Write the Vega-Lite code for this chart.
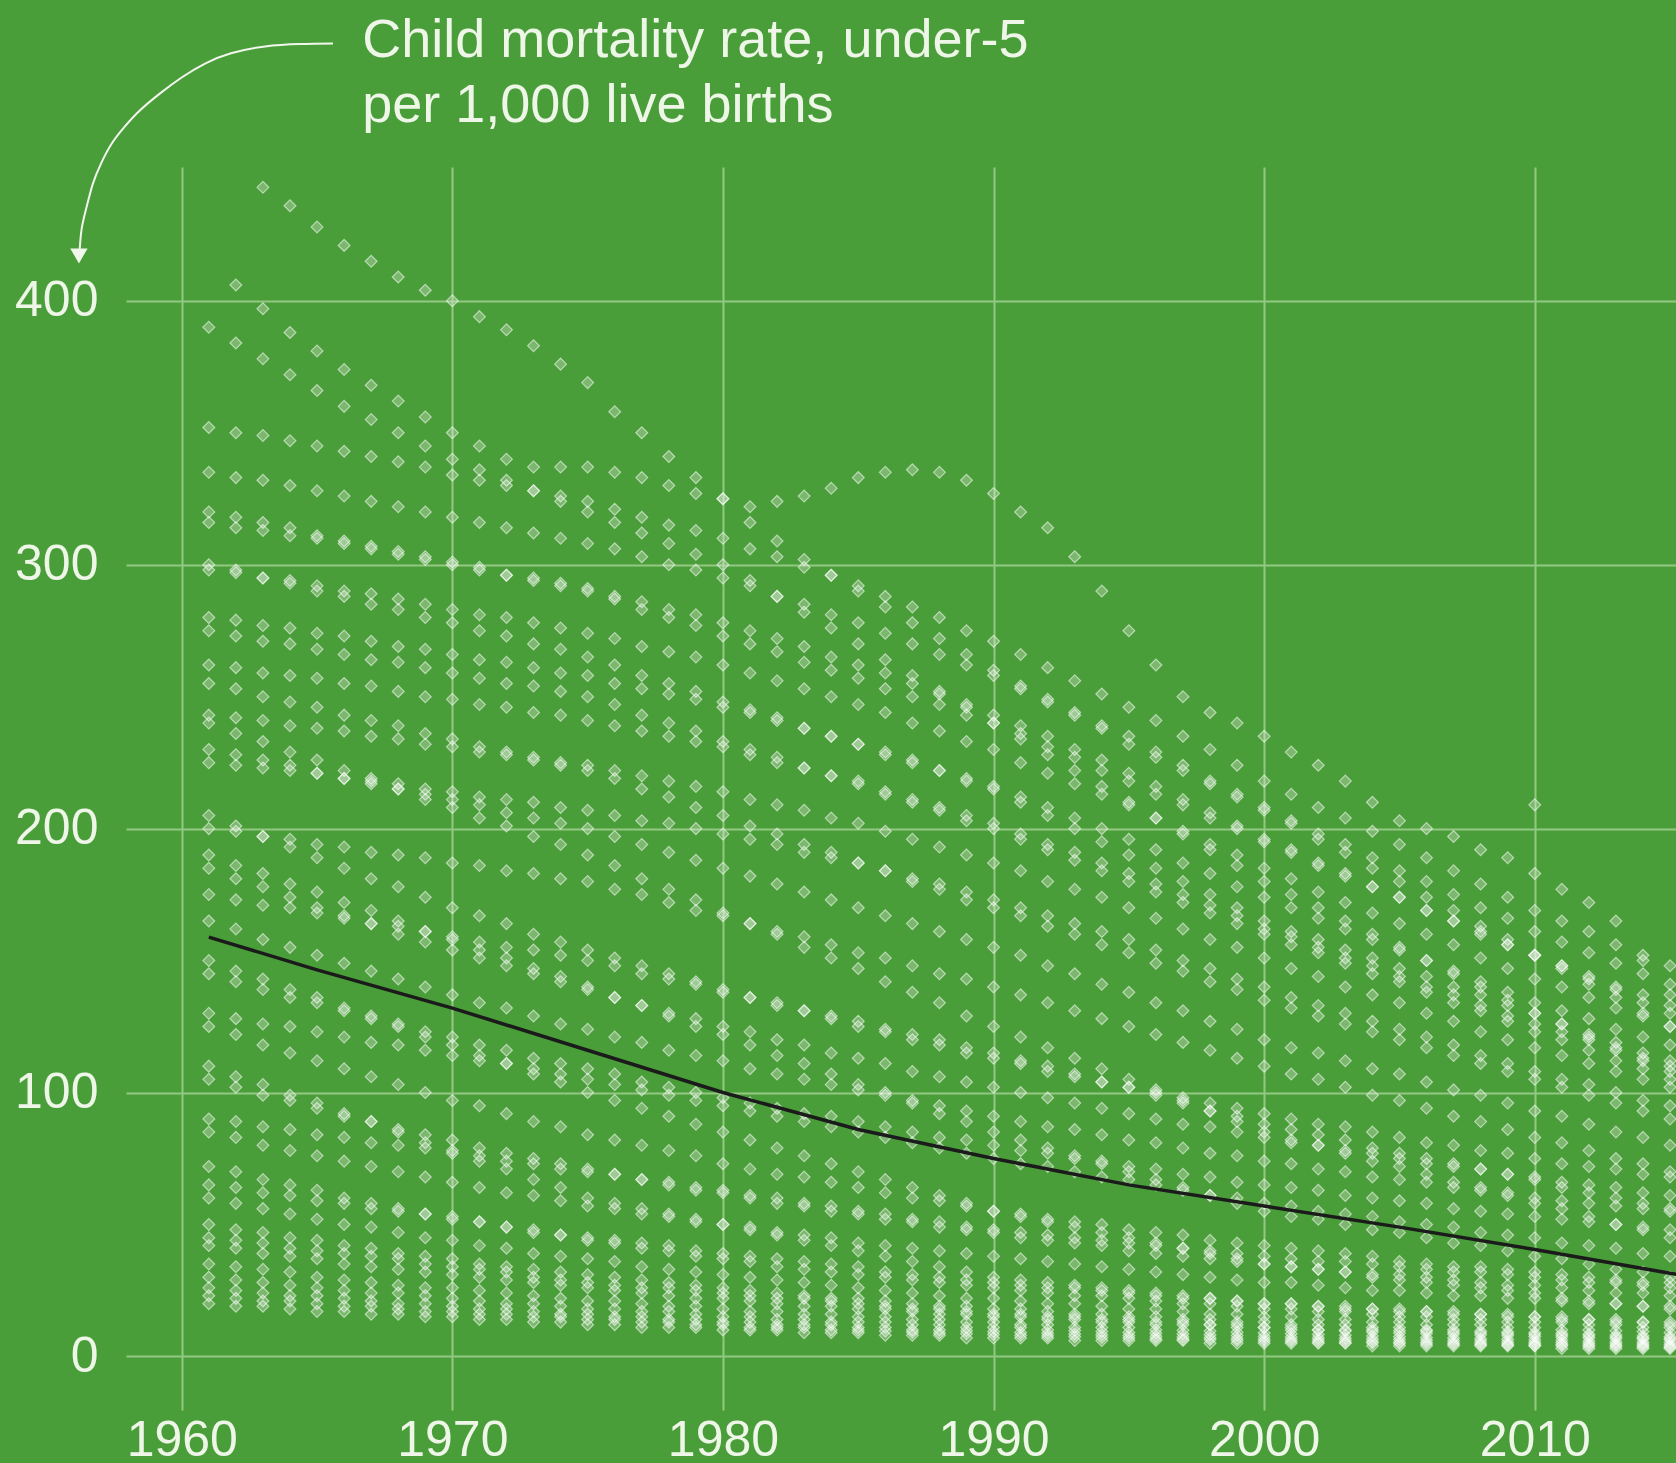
{
"$schema": "https://vega.github.io/schema/vega-lite/v6.json",
"autosize": "none",
"width": 1550,
"height": 1243,
"padding": {"left": 126, "top": 167, "right": 0, "bottom": 53},
"background": "#4a9e39",
"config": {"view": {"stroke": null}},
"datasets": {
"avg": [{"t":1961,"v":158.9},{"t":1965,"v":146.5},{"t":1970,"v":132},{"t":1975,"v":116},{"t":1980,"v":100},{"t":1985,"v":86},{"t":1990,"v":75},{"t":1995,"v":65},{"t":2000,"v":57},{"t":2005,"v":49},{"t":2010,"v":40.5},{"t":2015,"v":31.5},{"t":2016,"v":30}],
"arrow": [{"i":0,"t":1965.59,"v":497.5},{"i":1,"t":1964.37,"v":497.3},{"i":2,"t":1963.08,"v":496.4},{"i":3,"t":1961.82,"v":493.8},{"i":4,"t":1960.86,"v":489.9},{"i":5,"t":1960.01,"v":484.7},{"i":6,"t":1959.2,"v":478.6},{"i":7,"t":1958.46,"v":472.2},{"i":8,"t":1957.9,"v":466.1},{"i":9,"t":1957.42,"v":459.7},{"i":10,"t":1957.02,"v":452.1},{"i":11,"t":1956.72,"v":444.5},{"i":12,"t":1956.5,"v":436.2},{"i":13,"t":1956.31,"v":427.8},{"i":14,"t":1956.24,"v":421},{"i":15,"t":1956.2,"v":417}],
"head": [{"t":1956.2,"v":417}],
"txt": [{"t":1966.67,"v":492.2,"label":"Child mortality rate, under-5"},{"t":1966.67,"v":467.6,"label":"per 1,000 live births"}],
"pts": [
{"t":1961,"v":20},{"t":1962,"v":19},{"t":1963,"v":19},{"t":1964,"v":18},{"t":1965,"v":17},{"t":1966,"v":17},{"t":1967,"v":16},{"t":1968,"v":16},{"t":1969,"v":15},{"t":1970,"v":15},{"t":1971,"v":14},{"t":1972,"v":14},{"t":1973,"v":13},{"t":1974,"v":13},{"t":1975,"v":12},{"t":1976,"v":12},{"t":1977,"v":11},{"t":1978,"v":11},{"t":1979,"v":11},{"t":1980,"v":10},{"t":1981,"v":10},{"t":1982,"v":10},{"t":1983,"v":9},{"t":1984,"v":9},{"t":1985,"v":9},{"t":1986,"v":8},{"t":1987,"v":8},{"t":1988,"v":8},{"t":1989,"v":7},{"t":1990,"v":7},{"t":1991,"v":7},{"t":1992,"v":7},{"t":1993,"v":6},{"t":1994,"v":6},{"t":1995,"v":6},{"t":1996,"v":6},{"t":1997,"v":6},{"t":1998,"v":5},{"t":1999,"v":5},{"t":2000,"v":5},{"t":2001,"v":5},{"t":2002,"v":5},{"t":2003,"v":5},{"t":2004,"v":4},{"t":2005,"v":4},{"t":2006,"v":4},{"t":2007,"v":4},{"t":2008,"v":4},{"t":2009,"v":4},{"t":2010,"v":4},{"t":2011,"v":3},{"t":2012,"v":3},{"t":2013,"v":3},{"t":2014,"v":3},{"t":2015,"v":3},
{"t":1961,"v":23},{"t":1962,"v":22},{"t":1963,"v":21},{"t":1964,"v":21},{"t":1965,"v":20},{"t":1966,"v":19},{"t":1967,"v":19},{"t":1968,"v":18},{"t":1969,"v":17},{"t":1970,"v":17},{"t":1971,"v":16},{"t":1972,"v":16},{"t":1973,"v":15},{"t":1974,"v":15},{"t":1975,"v":14},{"t":1976,"v":14},{"t":1977,"v":13},{"t":1978,"v":13},{"t":1979,"v":12},{"t":1980,"v":12},{"t":1981,"v":11},{"t":1982,"v":11},{"t":1983,"v":11},{"t":1984,"v":10},{"t":1985,"v":9.9},{"t":1986,"v":9.6},{"t":1987,"v":9.2},{"t":1988,"v":8.9},{"t":1989,"v":8.6},{"t":1990,"v":8.3},{"t":1991,"v":8.0},{"t":1992,"v":7.8},{"t":1993,"v":7.5},{"t":1994,"v":7.2},{"t":1995,"v":7.0},{"t":1996,"v":6.7},{"t":1997,"v":6.5},{"t":1998,"v":6.3},{"t":1999,"v":6.0},{"t":2000,"v":5.8},{"t":2001,"v":5.7},{"t":2002,"v":5.5},{"t":2003,"v":5.3},{"t":2004,"v":5.1},{"t":2005,"v":4.9},{"t":2006,"v":4.7},{"t":2007,"v":4.6},{"t":2008,"v":4.4},{"t":2009,"v":4.3},{"t":2010,"v":4.1},{"t":2011,"v":4.0},{"t":2012,"v":3.8},{"t":2013,"v":3.7},{"t":2014,"v":3.6},{"t":2015,"v":3.5},
{"t":1961,"v":26},{"t":1962,"v":25},{"t":1963,"v":24},{"t":1964,"v":23},{"t":1965,"v":23},{"t":1966,"v":22},{"t":1967,"v":21},{"t":1968,"v":20},{"t":1969,"v":20},{"t":1970,"v":19},{"t":1971,"v":18},{"t":1972,"v":18},{"t":1973,"v":17},{"t":1974,"v":16},{"t":1975,"v":16},{"t":1976,"v":15},{"t":1977,"v":15},{"t":1978,"v":14},{"t":1979,"v":14},{"t":1980,"v":13},{"t":1981,"v":13},{"t":1982,"v":12},{"t":1983,"v":12},{"t":1984,"v":12},{"t":1985,"v":11},{"t":1986,"v":11},{"t":1987,"v":10},{"t":1988,"v":10},{"t":1989,"v":9.7},{"t":1990,"v":9.4},{"t":1991,"v":9.1},{"t":1992,"v":8.8},{"t":1993,"v":8.5},{"t":1994,"v":8.2},{"t":1995,"v":7.9},{"t":1996,"v":7.6},{"t":1997,"v":7.4},{"t":1998,"v":7.1},{"t":1999,"v":6.8},{"t":2000,"v":6.6},{"t":2001,"v":6.4},{"t":2002,"v":6.2},{"t":2003,"v":6.0},{"t":2004,"v":5.7},{"t":2005,"v":5.5},{"t":2006,"v":5.4},{"t":2007,"v":5.2},{"t":2008,"v":5.0},{"t":2009,"v":4.8},{"t":2010,"v":4.7},{"t":2011,"v":4.5},{"t":2012,"v":4.3},{"t":2013,"v":4.2},{"t":2014,"v":4.1},{"t":2015,"v":3.9},
{"t":1961,"v":30},{"t":1962,"v":29},{"t":1963,"v":28},{"t":1964,"v":27},{"t":1965,"v":26},{"t":1966,"v":25},{"t":1967,"v":24},{"t":1968,"v":24},{"t":1969,"v":23},{"t":1970,"v":22},{"t":1971,"v":21},{"t":1972,"v":20},{"t":1973,"v":20},{"t":1974,"v":19},{"t":1975,"v":18},{"t":1976,"v":18},{"t":1977,"v":17},{"t":1978,"v":17},{"t":1979,"v":16},{"t":1980,"v":15},{"t":1981,"v":15},{"t":1982,"v":14},{"t":1983,"v":14},{"t":1984,"v":13},{"t":1985,"v":13},{"t":1986,"v":13},{"t":1987,"v":12},{"t":1988,"v":12},{"t":1989,"v":11},{"t":1990,"v":11},{"t":1991,"v":11},{"t":1992,"v":10},{"t":1993,"v":9.8},{"t":1994,"v":9.4},{"t":1995,"v":9.1},{"t":1996,"v":8.8},{"t":1997,"v":8.5},{"t":1998,"v":8.2},{"t":1999,"v":7.9},{"t":2000,"v":7.6},{"t":2001,"v":7.4},{"t":2002,"v":7.1},{"t":2003,"v":6.9},{"t":2004,"v":6.6},{"t":2005,"v":6.4},{"t":2006,"v":6.2},{"t":2007,"v":6.0},{"t":2008,"v":5.8},{"t":2009,"v":5.6},{"t":2010,"v":5.4},{"t":2011,"v":5.2},{"t":2012,"v":5.0},{"t":2013,"v":4.8},{"t":2014,"v":4.7},{"t":2015,"v":4.5},
{"t":1961,"v":35},{"t":1962,"v":34},{"t":1963,"v":33},{"t":1964,"v":32},{"t":1965,"v":30},{"t":1966,"v":29},{"t":1967,"v":28},{"t":1968,"v":27},{"t":1969,"v":26},{"t":1970,"v":26},{"t":1971,"v":25},{"t":1972,"v":24},{"t":1973,"v":23},{"t":1974,"v":22},{"t":1975,"v":21},{"t":1976,"v":21},{"t":1977,"v":20},{"t":1978,"v":19},{"t":1979,"v":19},{"t":1980,"v":18},{"t":1981,"v":17},{"t":1982,"v":17},{"t":1983,"v":16},{"t":1984,"v":16},{"t":1985,"v":15},{"t":1986,"v":15},{"t":1987,"v":14},{"t":1988,"v":14},{"t":1989,"v":13},{"t":1990,"v":13},{"t":1991,"v":12},{"t":1992,"v":12},{"t":1993,"v":11},{"t":1994,"v":11},{"t":1995,"v":11},{"t":1996,"v":10},{"t":1997,"v":9.9},{"t":1998,"v":9.6},{"t":1999,"v":9.2},{"t":2000,"v":8.9},{"t":2001,"v":8.6},{"t":2002,"v":8.3},{"t":2003,"v":8.0},{"t":2004,"v":7.7},{"t":2005,"v":7.5},{"t":2006,"v":7.2},{"t":2007,"v":7.0},{"t":2008,"v":6.7},{"t":2009,"v":6.5},{"t":2010,"v":6.3},{"t":2011,"v":6.1},{"t":2012,"v":5.8},{"t":2013,"v":5.6},{"t":2014,"v":5.5},{"t":2015,"v":5.3},
{"t":1961,"v":42},{"t":1962,"v":41},{"t":1963,"v":39},{"t":1964,"v":38},{"t":1965,"v":37},{"t":1966,"v":35},{"t":1967,"v":34},{"t":1968,"v":33},{"t":1969,"v":32},{"t":1970,"v":31},{"t":1971,"v":30},{"t":1972,"v":29},{"t":1973,"v":28},{"t":1974,"v":27},{"t":1975,"v":26},{"t":1976,"v":25},{"t":1977,"v":24},{"t":1978,"v":23},{"t":1979,"v":22},{"t":1980,"v":22},{"t":1981,"v":21},{"t":1982,"v":20},{"t":1983,"v":19},{"t":1984,"v":19},{"t":1985,"v":18},{"t":1986,"v":18},{"t":1987,"v":17},{"t":1988,"v":16},{"t":1989,"v":16},{"t":1990,"v":15},{"t":1991,"v":15},{"t":1992,"v":14},{"t":1993,"v":14},{"t":1994,"v":13},{"t":1995,"v":13},{"t":1996,"v":12},{"t":1997,"v":12},{"t":1998,"v":12},{"t":1999,"v":11},{"t":2000,"v":11},{"t":2001,"v":10},{"t":2002,"v":10},{"t":2003,"v":9.6},{"t":2004,"v":9.3},{"t":2005,"v":8.9},{"t":2006,"v":8.7},{"t":2007,"v":8.4},{"t":2008,"v":8.1},{"t":2009,"v":7.8},{"t":2010,"v":7.5},{"t":2011,"v":7.3},{"t":2012,"v":7.0},{"t":2013,"v":6.8},{"t":2014,"v":6.6},{"t":2015,"v":6.3},
{"t":1961,"v":50},{"t":1962,"v":48},{"t":1963,"v":47},{"t":1964,"v":45},{"t":1965,"v":44},{"t":1966,"v":42},{"t":1967,"v":41},{"t":1968,"v":39},{"t":1969,"v":38},{"t":1970,"v":37},{"t":1971,"v":35},{"t":1972,"v":34},{"t":1973,"v":33},{"t":1974,"v":32},{"t":1975,"v":31},{"t":1976,"v":30},{"t":1977,"v":29},{"t":1978,"v":28},{"t":1979,"v":27},{"t":1980,"v":26},{"t":1981,"v":25},{"t":1982,"v":24},{"t":1983,"v":23},{"t":1984,"v":22},{"t":1985,"v":22},{"t":1986,"v":21},{"t":1987,"v":20},{"t":1988,"v":19},{"t":1989,"v":19},{"t":1990,"v":18},{"t":1991,"v":18},{"t":1992,"v":17},{"t":1993,"v":16},{"t":1994,"v":16},{"t":1995,"v":15},{"t":1996,"v":15},{"t":1997,"v":14},{"t":1998,"v":14},{"t":1999,"v":13},{"t":2000,"v":13},{"t":2001,"v":12},{"t":2002,"v":12},{"t":2003,"v":12},{"t":2004,"v":11},{"t":2005,"v":11},{"t":2006,"v":10},{"t":2007,"v":10},{"t":2008,"v":9.6},{"t":2009,"v":9.3},{"t":2010,"v":9.0},{"t":2011,"v":8.7},{"t":2012,"v":8.4},{"t":2013,"v":8.1},{"t":2014,"v":7.8},{"t":2015,"v":7.5},
{"t":1961,"v":60},{"t":1962,"v":58},{"t":1963,"v":56},{"t":1964,"v":54},{"t":1965,"v":52},{"t":1966,"v":50},{"t":1967,"v":49},{"t":1968,"v":47},{"t":1969,"v":45},{"t":1970,"v":44},{"t":1971,"v":42},{"t":1972,"v":41},{"t":1973,"v":39},{"t":1974,"v":38},{"t":1975,"v":37},{"t":1976,"v":36},{"t":1977,"v":34},{"t":1978,"v":33},{"t":1979,"v":32},{"t":1980,"v":31},{"t":1981,"v":30},{"t":1982,"v":29},{"t":1983,"v":28},{"t":1984,"v":27},{"t":1985,"v":26},{"t":1986,"v":25},{"t":1987,"v":24},{"t":1988,"v":23},{"t":1989,"v":22},{"t":1990,"v":22},{"t":1991,"v":21},{"t":1992,"v":20},{"t":1993,"v":20},{"t":1994,"v":19},{"t":1995,"v":18},{"t":1996,"v":18},{"t":1997,"v":17},{"t":1998,"v":16},{"t":1999,"v":16},{"t":2000,"v":15},{"t":2001,"v":15},{"t":2002,"v":14},{"t":2003,"v":14},{"t":2004,"v":13},{"t":2005,"v":13},{"t":2006,"v":12},{"t":2007,"v":12},{"t":2008,"v":12},{"t":2009,"v":11},{"t":2010,"v":11},{"t":2011,"v":10},{"t":2012,"v":10},{"t":2013,"v":9.7},{"t":2014,"v":9.4},{"t":2015,"v":9.0},
{"t":1961,"v":72},{"t":1962,"v":70},{"t":1963,"v":67},{"t":1964,"v":65},{"t":1965,"v":63},{"t":1966,"v":60},{"t":1967,"v":58},{"t":1968,"v":56},{"t":1969,"v":54},{"t":1970,"v":53},{"t":1971,"v":51},{"t":1972,"v":49},{"t":1973,"v":47},{"t":1974,"v":46},{"t":1975,"v":44},{"t":1976,"v":43},{"t":1977,"v":41},{"t":1978,"v":40},{"t":1979,"v":38},{"t":1980,"v":37},{"t":1981,"v":36},{"t":1982,"v":34},{"t":1983,"v":33},{"t":1984,"v":32},{"t":1985,"v":31},{"t":1986,"v":30},{"t":1987,"v":29},{"t":1988,"v":28},{"t":1989,"v":27},{"t":1990,"v":26},{"t":1991,"v":25},{"t":1992,"v":24},{"t":1993,"v":23},{"t":1994,"v":23},{"t":1995,"v":22},{"t":1996,"v":21},{"t":1997,"v":20},{"t":1998,"v":20},{"t":1999,"v":19},{"t":2000,"v":18},{"t":2001,"v":18},{"t":2002,"v":17},{"t":2003,"v":17},{"t":2004,"v":16},{"t":2005,"v":15},{"t":2006,"v":15},{"t":2007,"v":14},{"t":2008,"v":14},{"t":2009,"v":13},{"t":2010,"v":13},{"t":2011,"v":13},{"t":2012,"v":12},{"t":2013,"v":12},{"t":2014,"v":11},{"t":2015,"v":11},
{"t":1961,"v":85},{"t":1962,"v":83},{"t":1963,"v":80},{"t":1964,"v":78},{"t":1965,"v":76},{"t":1966,"v":74},{"t":1967,"v":72},{"t":1968,"v":70},{"t":1969,"v":68},{"t":1970,"v":66},{"t":1971,"v":64},{"t":1972,"v":62},{"t":1973,"v":61},{"t":1974,"v":59},{"t":1975,"v":57},{"t":1976,"v":56},{"t":1977,"v":54},{"t":1978,"v":53},{"t":1979,"v":51},{"t":1980,"v":50},{"t":1981,"v":49},{"t":1982,"v":47},{"t":1983,"v":46},{"t":1984,"v":45},{"t":1985,"v":43},{"t":1986,"v":42},{"t":1987,"v":41},{"t":1988,"v":40},{"t":1989,"v":39},{"t":1990,"v":38},{"t":1991,"v":37},{"t":1992,"v":36},{"t":1993,"v":35},{"t":1994,"v":34},{"t":1995,"v":33},{"t":1996,"v":32},{"t":1997,"v":31},{"t":1998,"v":30},{"t":1999,"v":29},{"t":2000,"v":28},{"t":2001,"v":28},{"t":2002,"v":27},{"t":2003,"v":26},{"t":2004,"v":25},{"t":2005,"v":25},{"t":2006,"v":24},{"t":2007,"v":23},{"t":2008,"v":23},{"t":2009,"v":22},{"t":2010,"v":22},{"t":2011,"v":21},{"t":2012,"v":20},{"t":2013,"v":20},{"t":2014,"v":19},{"t":2015,"v":19},
{"t":1961,"v":105},{"t":1962,"v":102},{"t":1963,"v":99},{"t":1964,"v":97},{"t":1965,"v":94},{"t":1966,"v":91},{"t":1967,"v":89},{"t":1968,"v":86},{"t":1969,"v":84},{"t":1970,"v":82},{"t":1971,"v":79},{"t":1972,"v":77},{"t":1973,"v":75},{"t":1974,"v":73},{"t":1975,"v":71},{"t":1976,"v":69},{"t":1977,"v":67},{"t":1978,"v":65},{"t":1979,"v":63},{"t":1980,"v":62},{"t":1981,"v":60},{"t":1982,"v":58},{"t":1983,"v":57},{"t":1984,"v":55},{"t":1985,"v":54},{"t":1986,"v":52},{"t":1987,"v":51},{"t":1988,"v":49},{"t":1989,"v":48},{"t":1990,"v":47},{"t":1991,"v":45},{"t":1992,"v":44},{"t":1993,"v":43},{"t":1994,"v":42},{"t":1995,"v":40},{"t":1996,"v":39},{"t":1997,"v":38},{"t":1998,"v":37},{"t":1999,"v":36},{"t":2000,"v":35},{"t":2001,"v":34},{"t":2002,"v":33},{"t":2003,"v":32},{"t":2004,"v":31},{"t":2005,"v":31},{"t":2006,"v":30},{"t":2007,"v":29},{"t":2008,"v":28},{"t":2009,"v":27},{"t":2010,"v":27},{"t":2011,"v":26},{"t":2012,"v":25},{"t":2013,"v":24},{"t":2014,"v":24},{"t":2015,"v":23},
{"t":1961,"v":125},{"t":1962,"v":122},{"t":1963,"v":118},{"t":1964,"v":115},{"t":1965,"v":112},{"t":1966,"v":109},{"t":1967,"v":106},{"t":1968,"v":103},{"t":1969,"v":100},{"t":1970,"v":97},{"t":1971,"v":95},{"t":1972,"v":92},{"t":1973,"v":89},{"t":1974,"v":87},{"t":1975,"v":84},{"t":1976,"v":82},{"t":1977,"v":80},{"t":1978,"v":78},{"t":1979,"v":76},{"t":1980,"v":73},{"t":1981,"v":71},{"t":1982,"v":69},{"t":1983,"v":68},{"t":1984,"v":66},{"t":1985,"v":64},{"t":1986,"v":62},{"t":1987,"v":60},{"t":1988,"v":59},{"t":1989,"v":57},{"t":1990,"v":55},{"t":1991,"v":54},{"t":1992,"v":52},{"t":1993,"v":51},{"t":1994,"v":50},{"t":1995,"v":48},{"t":1996,"v":47},{"t":1997,"v":46},{"t":1998,"v":44},{"t":1999,"v":43},{"t":2000,"v":42},{"t":2001,"v":41},{"t":2002,"v":40},{"t":2003,"v":39},{"t":2004,"v":38},{"t":2005,"v":36},{"t":2006,"v":35},{"t":2007,"v":34},{"t":2008,"v":34},{"t":2009,"v":33},{"t":2010,"v":32},{"t":2011,"v":31},{"t":2012,"v":30},{"t":2013,"v":29},{"t":2014,"v":28},{"t":2015,"v":28},
{"t":1961,"v":145},{"t":1962,"v":142},{"t":1963,"v":139},{"t":1964,"v":136},{"t":1965,"v":134},{"t":1966,"v":131},{"t":1967,"v":128},{"t":1968,"v":126},{"t":1969,"v":123},{"t":1970,"v":121},{"t":1971,"v":118},{"t":1972,"v":116},{"t":1973,"v":113},{"t":1974,"v":111},{"t":1975,"v":109},{"t":1976,"v":107},{"t":1977,"v":104},{"t":1978,"v":102},{"t":1979,"v":100},{"t":1980,"v":98},{"t":1981,"v":96},{"t":1982,"v":94},{"t":1983,"v":92},{"t":1984,"v":91},{"t":1985,"v":89},{"t":1986,"v":87},{"t":1987,"v":85},{"t":1988,"v":83},{"t":1989,"v":82},{"t":1990,"v":80},{"t":1991,"v":78},{"t":1992,"v":77},{"t":1993,"v":75},{"t":1994,"v":74},{"t":1995,"v":72},{"t":1996,"v":71},{"t":1997,"v":69},{"t":1998,"v":68},{"t":1999,"v":66},{"t":2000,"v":65},{"t":2001,"v":64},{"t":2002,"v":63},{"t":2003,"v":61},{"t":2004,"v":60},{"t":2005,"v":59},{"t":2006,"v":58},{"t":2007,"v":56},{"t":2008,"v":55},{"t":2009,"v":54},{"t":2010,"v":53},{"t":2011,"v":52},{"t":2012,"v":51},{"t":2013,"v":50},{"t":2014,"v":49},{"t":2015,"v":48},
{"t":1961,"v":165},{"t":1962,"v":162},{"t":1963,"v":158},{"t":1964,"v":155},{"t":1965,"v":152},{"t":1966,"v":149},{"t":1967,"v":146},{"t":1968,"v":143},{"t":1969,"v":140},{"t":1970,"v":137},{"t":1971,"v":134},{"t":1972,"v":132},{"t":1973,"v":129},{"t":1974,"v":126},{"t":1975,"v":124},{"t":1976,"v":121},{"t":1977,"v":119},{"t":1978,"v":116},{"t":1979,"v":114},{"t":1980,"v":112},{"t":1981,"v":109},{"t":1982,"v":107},{"t":1983,"v":105},{"t":1984,"v":103},{"t":1985,"v":101},{"t":1986,"v":99},{"t":1987,"v":97},{"t":1988,"v":95},{"t":1989,"v":93},{"t":1990,"v":91},{"t":1991,"v":89},{"t":1992,"v":87},{"t":1993,"v":86},{"t":1994,"v":84},{"t":1995,"v":82},{"t":1996,"v":81},{"t":1997,"v":79},{"t":1998,"v":77},{"t":1999,"v":76},{"t":2000,"v":74},{"t":2001,"v":73},{"t":2002,"v":71},{"t":2003,"v":70},{"t":2004,"v":68},{"t":2005,"v":67},{"t":2006,"v":66},{"t":2007,"v":64},{"t":2008,"v":63},{"t":2009,"v":62},{"t":2010,"v":60},{"t":2011,"v":59},{"t":2012,"v":58},{"t":2013,"v":57},{"t":2014,"v":56},{"t":2015,"v":55},
{"t":1961,"v":185},{"t":1962,"v":181},{"t":1963,"v":178},{"t":1964,"v":174},{"t":1965,"v":170},{"t":1966,"v":167},{"t":1967,"v":164},{"t":1968,"v":160},{"t":1969,"v":157},{"t":1970,"v":154},{"t":1971,"v":151},{"t":1972,"v":148},{"t":1973,"v":145},{"t":1974,"v":142},{"t":1975,"v":139},{"t":1976,"v":136},{"t":1977,"v":133},{"t":1978,"v":130},{"t":1979,"v":128},{"t":1980,"v":125},{"t":1981,"v":123},{"t":1982,"v":120},{"t":1983,"v":118},{"t":1984,"v":115},{"t":1985,"v":113},{"t":1986,"v":111},{"t":1987,"v":108},{"t":1988,"v":106},{"t":1989,"v":104},{"t":1990,"v":102},{"t":1991,"v":100},{"t":1992,"v":98},{"t":1993,"v":96},{"t":1994,"v":94},{"t":1995,"v":92},{"t":1996,"v":90},{"t":1997,"v":88},{"t":1998,"v":87},{"t":1999,"v":85},{"t":2000,"v":83},{"t":2001,"v":81},{"t":2002,"v":80},{"t":2003,"v":78},{"t":2004,"v":77},{"t":2005,"v":75},{"t":2006,"v":73},{"t":2007,"v":72},{"t":2008,"v":71},{"t":2009,"v":69},{"t":2010,"v":68},{"t":2011,"v":66},{"t":2012,"v":65},{"t":2013,"v":64},{"t":2014,"v":62},{"t":2015,"v":61},
{"t":1961,"v":205},{"t":1962,"v":201},{"t":1963,"v":197},{"t":1964,"v":193},{"t":1965,"v":189},{"t":1966,"v":185},{"t":1967,"v":181},{"t":1968,"v":178},{"t":1969,"v":174},{"t":1970,"v":170},{"t":1971,"v":167},{"t":1972,"v":164},{"t":1973,"v":160},{"t":1974,"v":157},{"t":1975,"v":154},{"t":1976,"v":151},{"t":1977,"v":148},{"t":1978,"v":145},{"t":1979,"v":142},{"t":1980,"v":139},{"t":1981,"v":136},{"t":1982,"v":133},{"t":1983,"v":131},{"t":1984,"v":128},{"t":1985,"v":125},{"t":1986,"v":123},{"t":1987,"v":120},{"t":1988,"v":118},{"t":1989,"v":115},{"t":1990,"v":113},{"t":1991,"v":111},{"t":1992,"v":108},{"t":1993,"v":106},{"t":1994,"v":104},{"t":1995,"v":102},{"t":1996,"v":100},{"t":1997,"v":98},{"t":1998,"v":96},{"t":1999,"v":94},{"t":2000,"v":92},{"t":2001,"v":90},{"t":2002,"v":88},{"t":2003,"v":87},{"t":2004,"v":85},{"t":2005,"v":83},{"t":2006,"v":81},{"t":2007,"v":80},{"t":2008,"v":78},{"t":2009,"v":77},{"t":2010,"v":75},{"t":2011,"v":73},{"t":2012,"v":72},{"t":2013,"v":71},{"t":2014,"v":69},{"t":2015,"v":68},
{"t":1961,"v":225},{"t":1962,"v":224},{"t":1963,"v":223},{"t":1964,"v":222},{"t":1965,"v":221},{"t":1966,"v":219},{"t":1967,"v":218},{"t":1968,"v":217},{"t":1969,"v":215},{"t":1970,"v":214},{"t":1971,"v":212},{"t":1972,"v":211},{"t":1973,"v":210},{"t":1974,"v":208},{"t":1975,"v":207},{"t":1976,"v":205},{"t":1977,"v":203},{"t":1978,"v":202},{"t":1979,"v":200},{"t":1980,"v":198},{"t":1981,"v":196},{"t":1982,"v":194},{"t":1983,"v":191},{"t":1984,"v":189},{"t":1985,"v":187},{"t":1986,"v":184},{"t":1987,"v":181},{"t":1988,"v":179},{"t":1989,"v":176},{"t":1990,"v":173},{"t":1991,"v":170},{"t":1992,"v":167},{"t":1993,"v":164},{"t":1994,"v":161},{"t":1995,"v":158},{"t":1996,"v":154},{"t":1997,"v":150},{"t":1998,"v":147},{"t":1999,"v":143},{"t":2000,"v":140},{"t":2001,"v":136},{"t":2002,"v":133},{"t":2003,"v":130},{"t":2004,"v":127},{"t":2005,"v":124},{"t":2006,"v":121},{"t":2007,"v":118},{"t":2008,"v":114},{"t":2009,"v":111},{"t":2010,"v":108},{"t":2011,"v":105},{"t":2012,"v":103},{"t":2013,"v":100},{"t":2014,"v":97},{"t":2015,"v":95},
{"t":1961,"v":243},{"t":1962,"v":242},{"t":1963,"v":241},{"t":1964,"v":239},{"t":1965,"v":238},{"t":1966,"v":237},{"t":1967,"v":235},{"t":1968,"v":234},{"t":1969,"v":232},{"t":1970,"v":231},{"t":1971,"v":229},{"t":1972,"v":228},{"t":1973,"v":226},{"t":1974,"v":225},{"t":1975,"v":224},{"t":1976,"v":222},{"t":1977,"v":220},{"t":1978,"v":218},{"t":1979,"v":216},{"t":1980,"v":214},{"t":1981,"v":211},{"t":1982,"v":209},{"t":1983,"v":207},{"t":1984,"v":204},{"t":1985,"v":202},{"t":1986,"v":199},{"t":1987,"v":196},{"t":1988,"v":193},{"t":1989,"v":190},{"t":1990,"v":187},{"t":1991,"v":184},{"t":1992,"v":180},{"t":1993,"v":177},{"t":1994,"v":174},{"t":1995,"v":170},{"t":1996,"v":166},{"t":1997,"v":162},{"t":1998,"v":158},{"t":1999,"v":155},{"t":2000,"v":151},{"t":2001,"v":147},{"t":2002,"v":144},{"t":2003,"v":140},{"t":2004,"v":137},{"t":2005,"v":134},{"t":2006,"v":130},{"t":2007,"v":127},{"t":2008,"v":123},{"t":2009,"v":120},{"t":2010,"v":117},{"t":2011,"v":114},{"t":2012,"v":111},{"t":2013,"v":108},{"t":2014,"v":105},{"t":2015,"v":102},
{"t":1961,"v":262},{"t":1962,"v":261},{"t":1963,"v":259},{"t":1964,"v":258},{"t":1965,"v":257},{"t":1966,"v":255},{"t":1967,"v":254},{"t":1968,"v":252},{"t":1969,"v":250},{"t":1970,"v":249},{"t":1971,"v":247},{"t":1972,"v":246},{"t":1973,"v":244},{"t":1974,"v":243},{"t":1975,"v":241},{"t":1976,"v":239},{"t":1977,"v":237},{"t":1978,"v":235},{"t":1979,"v":233},{"t":1980,"v":231},{"t":1981,"v":228},{"t":1982,"v":225},{"t":1983,"v":223},{"t":1984,"v":220},{"t":1985,"v":218},{"t":1986,"v":214},{"t":1987,"v":211},{"t":1988,"v":208},{"t":1989,"v":205},{"t":1990,"v":202},{"t":1991,"v":198},{"t":1992,"v":194},{"t":1993,"v":191},{"t":1994,"v":187},{"t":1995,"v":183},{"t":1996,"v":179},{"t":1997,"v":175},{"t":1998,"v":171},{"t":1999,"v":167},{"t":2000,"v":162},{"t":2001,"v":159},{"t":2002,"v":155},{"t":2003,"v":151},{"t":2004,"v":148},{"t":2005,"v":144},{"t":2006,"v":140},{"t":2007,"v":137},{"t":2008,"v":133},{"t":2009,"v":129},{"t":2010,"v":126},{"t":2011,"v":123},{"t":2012,"v":120},{"t":2013,"v":116},{"t":2014,"v":113},{"t":2015,"v":110},
{"t":1961,"v":280},{"t":1962,"v":279},{"t":1963,"v":277},{"t":1964,"v":276},{"t":1965,"v":274},{"t":1966,"v":273},{"t":1967,"v":271},{"t":1968,"v":269},{"t":1969,"v":268},{"t":1970,"v":266},{"t":1971,"v":264},{"t":1972,"v":263},{"t":1973,"v":261},{"t":1974,"v":259},{"t":1975,"v":258},{"t":1976,"v":255},{"t":1977,"v":253},{"t":1978,"v":251},{"t":1979,"v":249},{"t":1980,"v":246},{"t":1981,"v":244},{"t":1982,"v":241},{"t":1983,"v":238},{"t":1984,"v":235},{"t":1985,"v":232},{"t":1986,"v":229},{"t":1987,"v":226},{"t":1988,"v":222},{"t":1989,"v":219},{"t":1990,"v":216},{"t":1991,"v":212},{"t":1992,"v":208},{"t":1993,"v":204},{"t":1994,"v":200},{"t":1995,"v":196},{"t":1996,"v":192},{"t":1997,"v":187},{"t":1998,"v":183},{"t":1999,"v":178},{"t":2000,"v":174},{"t":2001,"v":170},{"t":2002,"v":166},{"t":2003,"v":162},{"t":2004,"v":158},{"t":2005,"v":154},{"t":2006,"v":150},{"t":2007,"v":146},{"t":2008,"v":142},{"t":2009,"v":138},{"t":2010,"v":134},{"t":2011,"v":131},{"t":2012,"v":128},{"t":2013,"v":124},{"t":2014,"v":121},{"t":2015,"v":118},
{"t":1961,"v":298},{"t":1962,"v":297},{"t":1963,"v":295},{"t":1964,"v":294},{"t":1965,"v":292},{"t":1966,"v":290},{"t":1967,"v":289},{"t":1968,"v":287},{"t":1969,"v":285},{"t":1970,"v":283},{"t":1971,"v":281},{"t":1972,"v":280},{"t":1973,"v":278},{"t":1974,"v":276},{"t":1975,"v":274},{"t":1976,"v":272},{"t":1977,"v":269},{"t":1978,"v":267},{"t":1979,"v":265},{"t":1980,"v":262},{"t":1981,"v":259},{"t":1982,"v":256},{"t":1983,"v":253},{"t":1984,"v":250},{"t":1985,"v":247},{"t":1986,"v":244},{"t":1987,"v":240},{"t":1988,"v":237},{"t":1989,"v":233},{"t":1990,"v":230},{"t":1991,"v":225},{"t":1992,"v":221},{"t":1993,"v":217},{"t":1994,"v":213},{"t":1995,"v":209},{"t":1996,"v":204},{"t":1997,"v":199},{"t":1998,"v":194},{"t":1999,"v":190},{"t":2000,"v":185},{"t":2001,"v":181},{"t":2002,"v":176},{"t":2003,"v":172},{"t":2004,"v":168},{"t":2005,"v":164},{"t":2006,"v":160},{"t":2007,"v":156},{"t":2008,"v":151},{"t":2009,"v":147},{"t":2010,"v":143},{"t":2011,"v":140},{"t":2012,"v":136},{"t":2013,"v":132},{"t":2014,"v":129},{"t":2015,"v":125},
{"t":1961,"v":316},{"t":1962,"v":314},{"t":1963,"v":313},{"t":1964,"v":311},{"t":1965,"v":310},{"t":1966,"v":308},{"t":1967,"v":306},{"t":1968,"v":304},{"t":1969,"v":302},{"t":1970,"v":300},{"t":1971,"v":298},{"t":1972,"v":296},{"t":1973,"v":295},{"t":1974,"v":293},{"t":1975,"v":291},{"t":1976,"v":288},{"t":1977,"v":286},{"t":1978,"v":283},{"t":1979,"v":281},{"t":1980,"v":278},{"t":1981,"v":275},{"t":1982,"v":272},{"t":1983,"v":269},{"t":1984,"v":265},{"t":1985,"v":262},{"t":1986,"v":259},{"t":1987,"v":255},{"t":1988,"v":251},{"t":1989,"v":247},{"t":1990,"v":243},{"t":1991,"v":239},{"t":1992,"v":235},{"t":1993,"v":230},{"t":1994,"v":226},{"t":1995,"v":221},{"t":1996,"v":216},{"t":1997,"v":211},{"t":1998,"v":206},{"t":1999,"v":201},{"t":2000,"v":196},{"t":2001,"v":192},{"t":2002,"v":187},{"t":2003,"v":183},{"t":2004,"v":178},{"t":2005,"v":174},{"t":2006,"v":169},{"t":2007,"v":165},{"t":2008,"v":161},{"t":2009,"v":156},{"t":2010,"v":152},{"t":2011,"v":148},{"t":2012,"v":144},{"t":2013,"v":140},{"t":2014,"v":137},{"t":2015,"v":133},
{"t":1961,"v":335},{"t":1962,"v":333},{"t":1963,"v":332},{"t":1964,"v":330},{"t":1965,"v":328},{"t":1966,"v":326},{"t":1967,"v":324},{"t":1968,"v":322},{"t":1969,"v":320},{"t":1970,"v":318},{"t":1971,"v":316},{"t":1972,"v":314},{"t":1973,"v":312},{"t":1974,"v":310},{"t":1975,"v":308},{"t":1976,"v":306},{"t":1977,"v":303},{"t":1978,"v":300},{"t":1979,"v":298},{"t":1980,"v":295},{"t":1981,"v":292},{"t":1982,"v":288},{"t":1983,"v":285},{"t":1984,"v":281},{"t":1985,"v":278},{"t":1986,"v":274},{"t":1987,"v":270},{"t":1988,"v":266},{"t":1989,"v":262},{"t":1990,"v":258},{"t":1991,"v":253},{"t":1992,"v":249},{"t":1993,"v":244},{"t":1994,"v":239},{"t":1995,"v":235},{"t":1996,"v":229},{"t":1997,"v":224},{"t":1998,"v":218},{"t":1999,"v":213},{"t":2000,"v":208},{"t":2001,"v":203},{"t":2002,"v":198},{"t":2003,"v":194},{"t":2004,"v":189},{"t":2005,"v":184},{"t":2006,"v":180},{"t":2007,"v":175},{"t":2008,"v":170},{"t":2009,"v":166},{"t":2010,"v":161},{"t":2011,"v":157},{"t":2012,"v":153},{"t":2013,"v":149},{"t":2014,"v":145},{"t":2015,"v":141},
{"t":1961,"v":352},{"t":1962,"v":350},{"t":1963,"v":349},{"t":1964,"v":347},{"t":1965,"v":345},{"t":1966,"v":343},{"t":1967,"v":341},{"t":1968,"v":339},{"t":1969,"v":337},{"t":1970,"v":334},{"t":1971,"v":332},{"t":1972,"v":330},{"t":1973,"v":328},{"t":1974,"v":326},{"t":1975,"v":324},{"t":1976,"v":321},{"t":1977,"v":318},{"t":1978,"v":315},{"t":1979,"v":313},{"t":1980,"v":310},{"t":1981,"v":306},{"t":1982,"v":303},{"t":1983,"v":299},{"t":1984,"v":296},{"t":1985,"v":292},{"t":1986,"v":288},{"t":1987,"v":284},{"t":1988,"v":280},{"t":1989,"v":275},{"t":1990,"v":271},{"t":1991,"v":266},{"t":1992,"v":261},{"t":1993,"v":256},{"t":1994,"v":251},{"t":1995,"v":246},{"t":1996,"v":241},{"t":1997,"v":235},{"t":1998,"v":230},{"t":1999,"v":224},{"t":2000,"v":218},{"t":2001,"v":213},{"t":2002,"v":208},{"t":2003,"v":204},{"t":2004,"v":199},{"t":2005,"v":194},{"t":2006,"v":189},{"t":2007,"v":184},{"t":2008,"v":179},{"t":2009,"v":174},{"t":2010,"v":169},{"t":2011,"v":165},{"t":2012,"v":161},{"t":2013,"v":156},{"t":2014,"v":152},{"t":2015,"v":148},
{"t":1963,"v":443},{"t":1964,"v":436},{"t":1965,"v":428},{"t":1966,"v":421},{"t":1967,"v":415},{"t":1968,"v":409},{"t":1969,"v":404},{"t":1970,"v":400},{"t":1971,"v":394},{"t":1972,"v":389},{"t":1973,"v":383},{"t":1974,"v":376},{"t":1975,"v":369},{"t":1976,"v":358},{"t":1977,"v":350},{"t":1978,"v":341},{"t":1979,"v":333},{"t":1980,"v":325},{"t":1981,"v":316},{"t":1982,"v":309},{"t":1983,"v":302},{"t":1984,"v":296},{"t":1985,"v":290},{"t":1986,"v":284},{"t":1987,"v":278},{"t":1988,"v":272},{"t":1989,"v":266},{"t":1990,"v":260},{"t":1991,"v":254},{"t":1992,"v":248},{"t":1993,"v":243},{"t":1994,"v":238},{"t":1995,"v":232},{"t":1996,"v":227},{"t":1997,"v":222},{"t":1998,"v":217},{"t":1999,"v":212},{"t":2000,"v":207},{"t":2001,"v":202},{"t":2002,"v":196},{"t":2003,"v":191},{"t":2004,"v":185},{"t":2005,"v":180},{"t":2006,"v":174},{"t":2007,"v":169},{"t":2008,"v":163},{"t":2009,"v":158},{"t":2010,"v":152},{"t":2011,"v":147},{"t":2012,"v":141},{"t":2013,"v":136},{"t":2014,"v":130},{"t":2015,"v":125},
{"t":1961,"v":390},{"t":1962,"v":384},{"t":1963,"v":378},{"t":1964,"v":372},{"t":1965,"v":366},{"t":1966,"v":360},{"t":1967,"v":355},{"t":1968,"v":350},{"t":1969,"v":345},{"t":1970,"v":340},{"t":1971,"v":336},{"t":1972,"v":332},{"t":1973,"v":328},{"t":1974,"v":324},{"t":1975,"v":320},{"t":1976,"v":316},{"t":1977,"v":312},{"t":1978,"v":308},{"t":1979,"v":304},{"t":1980,"v":300},{"t":1981,"v":294},{"t":1982,"v":288},{"t":1983,"v":282},{"t":1984,"v":276},{"t":1985,"v":270},{"t":1986,"v":264},{"t":1987,"v":258},{"t":1988,"v":252},{"t":1989,"v":246},{"t":1990,"v":240},{"t":1991,"v":234},{"t":1992,"v":228},{"t":1993,"v":222},{"t":1994,"v":216},{"t":1995,"v":210},{"t":1996,"v":204},{"t":1997,"v":198},{"t":1998,"v":192},{"t":1999,"v":186},{"t":2000,"v":180},{"t":2001,"v":175},{"t":2002,"v":170},{"t":2003,"v":165},{"t":2004,"v":160},{"t":2005,"v":155},{"t":2006,"v":150},{"t":2007,"v":145},{"t":2008,"v":140},{"t":2009,"v":135},{"t":2010,"v":130},{"t":2011,"v":126},{"t":2012,"v":121},{"t":2013,"v":117},{"t":2014,"v":112},{"t":2015,"v":108},
{"t":1962,"v":406},{"t":1963,"v":397},{"t":1964,"v":388},{"t":1965,"v":381},{"t":1966,"v":374},{"t":1967,"v":368},{"t":1968,"v":362},{"t":1969,"v":356},{"t":1970,"v":350},{"t":1971,"v":345},{"t":1972,"v":340},{"t":1973,"v":337},{"t":1974,"v":337},{"t":1975,"v":337},{"t":1976,"v":335},{"t":1977,"v":333},{"t":1978,"v":330},{"t":1979,"v":327},{"t":1980,"v":325},{"t":1981,"v":322},{"t":1982,"v":324},{"t":1983,"v":326},{"t":1984,"v":329},{"t":1985,"v":333},{"t":1986,"v":335},{"t":1987,"v":336},{"t":1988,"v":335},{"t":1989,"v":332},{"t":1990,"v":327},{"t":1991,"v":320},{"t":1992,"v":314},{"t":1993,"v":303},{"t":1994,"v":290},{"t":1995,"v":275},{"t":1996,"v":262},{"t":1997,"v":250},{"t":1998,"v":244},{"t":1999,"v":240},{"t":2000,"v":235},{"t":2001,"v":229},{"t":2002,"v":224},{"t":2003,"v":218},{"t":2004,"v":210},{"t":2005,"v":203},{"t":2006,"v":200},{"t":2007,"v":197},{"t":2008,"v":192},{"t":2009,"v":189},{"t":2010,"v":183},{"t":2011,"v":177},{"t":2012,"v":172},{"t":2013,"v":165},{"t":2014,"v":150},{"t":2015,"v":137},
{"t":2010,"v":209},
{"t":1961,"v":110},{"t":1962,"v":106},{"t":1963,"v":103},{"t":1964,"v":99},{"t":1965,"v":96},{"t":1966,"v":92},{"t":1967,"v":89},{"t":1968,"v":85},{"t":1969,"v":81},{"t":1970,"v":78},{"t":1971,"v":74},{"t":1972,"v":71},{"t":1973,"v":67},{"t":1974,"v":64},{"t":1975,"v":60},{"t":1976,"v":58},{"t":1977,"v":56},{"t":1978,"v":54},{"t":1979,"v":52},{"t":1980,"v":50},{"t":1981,"v":48},{"t":1982,"v":46},{"t":1983,"v":44},{"t":1984,"v":42},{"t":1985,"v":40},{"t":1986,"v":38},{"t":1987,"v":36},{"t":1988,"v":34},{"t":1989,"v":32},{"t":1990,"v":30},{"t":1991,"v":29},{"t":1992,"v":28},{"t":1993,"v":27},{"t":1994,"v":26},{"t":1995,"v":25},{"t":1996,"v":24},{"t":1997,"v":23},{"t":1998,"v":22},{"t":1999,"v":21},{"t":2000,"v":20},{"t":2001,"v":20},{"t":2002,"v":19},{"t":2003,"v":18},{"t":2004,"v":18},{"t":2005,"v":17},{"t":2006,"v":17},{"t":2007,"v":16},{"t":2008,"v":16},{"t":2009,"v":15},{"t":2010,"v":15},{"t":2011,"v":14},{"t":2012,"v":14},{"t":2013,"v":13},{"t":2014,"v":13},{"t":2015,"v":12},
{"t":1961,"v":150},{"t":1962,"v":146},{"t":1963,"v":143},{"t":1964,"v":139},{"t":1965,"v":136},{"t":1966,"v":132},{"t":1967,"v":129},{"t":1968,"v":125},{"t":1969,"v":121},{"t":1970,"v":118},{"t":1971,"v":114},{"t":1972,"v":111},{"t":1973,"v":107},{"t":1974,"v":104},{"t":1975,"v":100},{"t":1976,"v":97},{"t":1977,"v":94},{"t":1978,"v":91},{"t":1979,"v":88},{"t":1980,"v":85},{"t":1981,"v":82},{"t":1982,"v":79},{"t":1983,"v":76},{"t":1984,"v":73},{"t":1985,"v":70},{"t":1986,"v":67},{"t":1987,"v":64},{"t":1988,"v":61},{"t":1989,"v":58},{"t":1990,"v":55},{"t":1991,"v":53},{"t":1992,"v":51},{"t":1993,"v":49},{"t":1994,"v":47},{"t":1995,"v":45},{"t":1996,"v":43},{"t":1997,"v":41},{"t":1998,"v":39},{"t":1999,"v":37},{"t":2000,"v":35},{"t":2001,"v":34},{"t":2002,"v":33},{"t":2003,"v":32},{"t":2004,"v":30},{"t":2005,"v":29},{"t":2006,"v":28},{"t":2007,"v":27},{"t":2008,"v":26},{"t":2009,"v":25},{"t":2010,"v":24},{"t":2011,"v":22},{"t":2012,"v":21},{"t":2013,"v":20},{"t":2014,"v":19},{"t":2015,"v":18},
{"t":1961,"v":190},{"t":1962,"v":186},{"t":1963,"v":183},{"t":1964,"v":179},{"t":1965,"v":176},{"t":1966,"v":172},{"t":1967,"v":169},{"t":1968,"v":165},{"t":1969,"v":161},{"t":1970,"v":158},{"t":1971,"v":154},{"t":1972,"v":151},{"t":1973,"v":147},{"t":1974,"v":144},{"t":1975,"v":140},{"t":1976,"v":136},{"t":1977,"v":133},{"t":1978,"v":129},{"t":1979,"v":125},{"t":1980,"v":122},{"t":1981,"v":118},{"t":1982,"v":114},{"t":1983,"v":111},{"t":1984,"v":107},{"t":1985,"v":103},{"t":1986,"v":100},{"t":1987,"v":96},{"t":1988,"v":92},{"t":1989,"v":89},{"t":1990,"v":85},{"t":1991,"v":82},{"t":1992,"v":79},{"t":1993,"v":76},{"t":1994,"v":73},{"t":1995,"v":70},{"t":1996,"v":67},{"t":1997,"v":64},{"t":1998,"v":61},{"t":1999,"v":58},{"t":2000,"v":55},{"t":2001,"v":53},{"t":2002,"v":52},{"t":2003,"v":50},{"t":2004,"v":48},{"t":2005,"v":47},{"t":2006,"v":45},{"t":2007,"v":43},{"t":2008,"v":42},{"t":2009,"v":40},{"t":2010,"v":38},{"t":2011,"v":37},{"t":2012,"v":35},{"t":2013,"v":33},{"t":2014,"v":32},{"t":2015,"v":30},
{"t":1961,"v":240},{"t":1962,"v":236},{"t":1963,"v":233},{"t":1964,"v":229},{"t":1965,"v":226},{"t":1966,"v":222},{"t":1967,"v":219},{"t":1968,"v":215},{"t":1969,"v":211},{"t":1970,"v":208},{"t":1971,"v":204},{"t":1972,"v":201},{"t":1973,"v":197},{"t":1974,"v":194},{"t":1975,"v":190},{"t":1976,"v":186},{"t":1977,"v":181},{"t":1978,"v":177},{"t":1979,"v":173},{"t":1980,"v":168},{"t":1981,"v":164},{"t":1982,"v":160},{"t":1983,"v":155},{"t":1984,"v":151},{"t":1985,"v":147},{"t":1986,"v":142},{"t":1987,"v":138},{"t":1988,"v":134},{"t":1989,"v":129},{"t":1990,"v":125},{"t":1991,"v":121},{"t":1992,"v":117},{"t":1993,"v":113},{"t":1994,"v":109},{"t":1995,"v":105},{"t":1996,"v":101},{"t":1997,"v":97},{"t":1998,"v":93},{"t":1999,"v":89},{"t":2000,"v":85},{"t":2001,"v":82},{"t":2002,"v":80},{"t":2003,"v":77},{"t":2004,"v":74},{"t":2005,"v":72},{"t":2006,"v":69},{"t":2007,"v":66},{"t":2008,"v":64},{"t":2009,"v":61},{"t":2010,"v":58},{"t":2011,"v":56},{"t":2012,"v":53},{"t":2013,"v":50},{"t":2014,"v":48},{"t":2015,"v":45},
{"t":1961,"v":230},{"t":1962,"v":228},{"t":1963,"v":226},{"t":1964,"v":224},{"t":1965,"v":221},{"t":1966,"v":219},{"t":1967,"v":217},{"t":1968,"v":215},{"t":1969,"v":213},{"t":1970,"v":211},{"t":1971,"v":209},{"t":1972,"v":206},{"t":1973,"v":204},{"t":1974,"v":202},{"t":1975,"v":200},{"t":1976,"v":197},{"t":1977,"v":194},{"t":1978,"v":191},{"t":1979,"v":188},{"t":1980,"v":185},{"t":1981,"v":182},{"t":1982,"v":179},{"t":1983,"v":176},{"t":1984,"v":173},{"t":1985,"v":170},{"t":1986,"v":167},{"t":1987,"v":164},{"t":1988,"v":161},{"t":1989,"v":158},{"t":1990,"v":155},{"t":1991,"v":152},{"t":1992,"v":148},{"t":1993,"v":145},{"t":1994,"v":141},{"t":1995,"v":138},{"t":1996,"v":134},{"t":1997,"v":131},{"t":1998,"v":127},{"t":1999,"v":124},{"t":2000,"v":120},{"t":2001,"v":117},{"t":2002,"v":115},{"t":2003,"v":112},{"t":2004,"v":109},{"t":2005,"v":107},{"t":2006,"v":104},{"t":2007,"v":101},{"t":2008,"v":99},{"t":2009,"v":96},{"t":2010,"v":93},{"t":2011,"v":91},{"t":2012,"v":88},{"t":2013,"v":85},{"t":2014,"v":83},{"t":2015,"v":80},
{"t":1961,"v":255},{"t":1962,"v":253},{"t":1963,"v":250},{"t":1964,"v":248},{"t":1965,"v":246},{"t":1966,"v":243},{"t":1967,"v":241},{"t":1968,"v":239},{"t":1969,"v":236},{"t":1970,"v":234},{"t":1971,"v":231},{"t":1972,"v":229},{"t":1973,"v":227},{"t":1974,"v":224},{"t":1975,"v":222},{"t":1976,"v":219},{"t":1977,"v":215},{"t":1978,"v":212},{"t":1979,"v":208},{"t":1980,"v":205},{"t":1981,"v":201},{"t":1982,"v":198},{"t":1983,"v":194},{"t":1984,"v":191},{"t":1985,"v":187},{"t":1986,"v":184},{"t":1987,"v":180},{"t":1988,"v":177},{"t":1989,"v":173},{"t":1990,"v":170},{"t":1991,"v":167},{"t":1992,"v":163},{"t":1993,"v":160},{"t":1994,"v":156},{"t":1995,"v":153},{"t":1996,"v":149},{"t":1997,"v":146},{"t":1998,"v":142},{"t":1999,"v":139},{"t":2000,"v":135},{"t":2001,"v":132},{"t":2002,"v":129},{"t":2003,"v":126},{"t":2004,"v":123},{"t":2005,"v":120},{"t":2006,"v":117},{"t":2007,"v":114},{"t":2008,"v":111},{"t":2009,"v":108},{"t":2010,"v":105},{"t":2011,"v":102},{"t":2012,"v":99},{"t":2013,"v":96},{"t":2014,"v":93},{"t":2015,"v":90},
{"t":1961,"v":275},{"t":1962,"v":273},{"t":1963,"v":271},{"t":1964,"v":270},{"t":1965,"v":268},{"t":1966,"v":266},{"t":1967,"v":264},{"t":1968,"v":263},{"t":1969,"v":261},{"t":1970,"v":259},{"t":1971,"v":257},{"t":1972,"v":255},{"t":1973,"v":254},{"t":1974,"v":252},{"t":1975,"v":250},{"t":1976,"v":247},{"t":1977,"v":243},{"t":1978,"v":240},{"t":1979,"v":237},{"t":1980,"v":233},{"t":1981,"v":230},{"t":1982,"v":227},{"t":1983,"v":223},{"t":1984,"v":220},{"t":1985,"v":217},{"t":1986,"v":213},{"t":1987,"v":210},{"t":1988,"v":207},{"t":1989,"v":203},{"t":1990,"v":200},{"t":1991,"v":196},{"t":1992,"v":192},{"t":1993,"v":188},{"t":1994,"v":184},{"t":1995,"v":180},{"t":1996,"v":176},{"t":1997,"v":172},{"t":1998,"v":168},{"t":1999,"v":164},{"t":2000,"v":160},{"t":2001,"v":156},{"t":2002,"v":153},{"t":2003,"v":149},{"t":2004,"v":145},{"t":2005,"v":142},{"t":2006,"v":138},{"t":2007,"v":134},{"t":2008,"v":131},{"t":2009,"v":127},{"t":2010,"v":123},{"t":2011,"v":120},{"t":2012,"v":116},{"t":2013,"v":112},{"t":2014,"v":109},{"t":2015,"v":105},
{"t":1961,"v":300},{"t":1962,"v":298},{"t":1963,"v":295},{"t":1964,"v":293},{"t":1965,"v":290},{"t":1966,"v":288},{"t":1967,"v":285},{"t":1968,"v":283},{"t":1969,"v":280},{"t":1970,"v":278},{"t":1971,"v":275},{"t":1972,"v":273},{"t":1973,"v":270},{"t":1974,"v":268},{"t":1975,"v":265},{"t":1976,"v":262},{"t":1977,"v":258},{"t":1978,"v":255},{"t":1979,"v":252},{"t":1980,"v":248},{"t":1981,"v":245},{"t":1982,"v":242},{"t":1983,"v":238},{"t":1984,"v":235},{"t":1985,"v":232},{"t":1986,"v":228},{"t":1987,"v":225},{"t":1988,"v":222},{"t":1989,"v":218},{"t":1990,"v":215},{"t":1991,"v":210},{"t":1992,"v":205},{"t":1993,"v":200},{"t":1994,"v":195},{"t":1995,"v":190},{"t":1996,"v":185},{"t":1997,"v":180},{"t":1998,"v":175},{"t":1999,"v":170},{"t":2000,"v":165},{"t":2001,"v":161},{"t":2002,"v":158},{"t":2003,"v":154},{"t":2004,"v":151},{"t":2005,"v":147},{"t":2006,"v":144},{"t":2007,"v":140},{"t":2008,"v":137},{"t":2009,"v":133},{"t":2010,"v":130},{"t":2011,"v":126},{"t":2012,"v":122},{"t":2013,"v":119},{"t":2014,"v":115},{"t":2015,"v":112},
{"t":1961,"v":320},{"t":1962,"v":318},{"t":1963,"v":316},{"t":1964,"v":314},{"t":1965,"v":311},{"t":1966,"v":309},{"t":1967,"v":307},{"t":1968,"v":305},{"t":1969,"v":303},{"t":1970,"v":301},{"t":1971,"v":299},{"t":1972,"v":296},{"t":1973,"v":294},{"t":1974,"v":292},{"t":1975,"v":290},{"t":1976,"v":287},{"t":1977,"v":283},{"t":1978,"v":280},{"t":1979,"v":277},{"t":1980,"v":273},{"t":1981,"v":270},{"t":1982,"v":267},{"t":1983,"v":263},{"t":1984,"v":260},{"t":1985,"v":257},{"t":1986,"v":253},{"t":1987,"v":250},{"t":1988,"v":247},{"t":1989,"v":243},{"t":1990,"v":240},{"t":1991,"v":236},{"t":1992,"v":231},{"t":1993,"v":227},{"t":1994,"v":222},{"t":1995,"v":218},{"t":1996,"v":213},{"t":1997,"v":209},{"t":1998,"v":204},{"t":1999,"v":200},{"t":2000,"v":195},{"t":2001,"v":191},{"t":2002,"v":186},{"t":2003,"v":182},{"t":2004,"v":178},{"t":2005,"v":174},{"t":2006,"v":169},{"t":2007,"v":165},{"t":2008,"v":160},{"t":2009,"v":156},{"t":2010,"v":152},{"t":2011,"v":148},{"t":2012,"v":143},{"t":2013,"v":139},{"t":2014,"v":134},{"t":2015,"v":130},
{"t":1961,"v":200},{"t":1962,"v":199},{"t":1963,"v":197},{"t":1964,"v":196},{"t":1965,"v":194},{"t":1966,"v":193},{"t":1967,"v":191},{"t":1968,"v":190},{"t":1969,"v":189},{"t":1970,"v":187},{"t":1971,"v":186},{"t":1972,"v":184},{"t":1973,"v":183},{"t":1974,"v":181},{"t":1975,"v":180},{"t":1976,"v":177},{"t":1977,"v":175},{"t":1978,"v":172},{"t":1979,"v":169},{"t":1980,"v":167},{"t":1981,"v":164},{"t":1982,"v":161},{"t":1983,"v":159},{"t":1984,"v":156},{"t":1985,"v":153},{"t":1986,"v":151},{"t":1987,"v":148},{"t":1988,"v":145},{"t":1989,"v":143},{"t":1990,"v":140},{"t":1991,"v":137},{"t":1992,"v":134},{"t":1993,"v":131},{"t":1994,"v":128},{"t":1995,"v":125},{"t":1996,"v":122},{"t":1997,"v":119},{"t":1998,"v":116},{"t":1999,"v":113},{"t":2000,"v":110},{"t":2001,"v":107},{"t":2002,"v":105},{"t":2003,"v":102},{"t":2004,"v":99},{"t":2005,"v":97},{"t":2006,"v":94},{"t":2007,"v":91},{"t":2008,"v":89},{"t":2009,"v":86},{"t":2010,"v":83},{"t":2011,"v":81},{"t":2012,"v":78},{"t":2013,"v":75},{"t":2014,"v":73},{"t":2015,"v":70},
{"t":1961,"v":175},{"t":1962,"v":173},{"t":1963,"v":171},{"t":1964,"v":170},{"t":1965,"v":168},{"t":1966,"v":166},{"t":1967,"v":164},{"t":1968,"v":163},{"t":1969,"v":161},{"t":1970,"v":159},{"t":1971,"v":157},{"t":1972,"v":155},{"t":1973,"v":154},{"t":1974,"v":152},{"t":1975,"v":150},{"t":1976,"v":148},{"t":1977,"v":145},{"t":1978,"v":143},{"t":1979,"v":141},{"t":1980,"v":138},{"t":1981,"v":136},{"t":1982,"v":134},{"t":1983,"v":131},{"t":1984,"v":129},{"t":1985,"v":127},{"t":1986,"v":124},{"t":1987,"v":122},{"t":1988,"v":120},{"t":1989,"v":117},{"t":1990,"v":115},{"t":1991,"v":112},{"t":1992,"v":110},{"t":1993,"v":107},{"t":1994,"v":104},{"t":1995,"v":102},{"t":1996,"v":99},{"t":1997,"v":96},{"t":1998,"v":93},{"t":1999,"v":91},{"t":2000,"v":88},{"t":2001,"v":86},{"t":2002,"v":84},{"t":2003,"v":82},{"t":2004,"v":79},{"t":2005,"v":77},{"t":2006,"v":75},{"t":2007,"v":73},{"t":2008,"v":71},{"t":2009,"v":69},{"t":2010,"v":67},{"t":2011,"v":64},{"t":2012,"v":62},{"t":2013,"v":60},{"t":2014,"v":58},{"t":2015,"v":56},
{"t":1961,"v":130},{"t":1962,"v":128},{"t":1963,"v":126},{"t":1964,"v":125},{"t":1965,"v":123},{"t":1966,"v":121},{"t":1967,"v":119},{"t":1968,"v":118},{"t":1969,"v":116},{"t":1970,"v":114},{"t":1971,"v":112},{"t":1972,"v":111},{"t":1973,"v":109},{"t":1974,"v":107},{"t":1975,"v":105},{"t":1976,"v":103},{"t":1977,"v":101},{"t":1978,"v":99},{"t":1979,"v":97},{"t":1980,"v":95},{"t":1981,"v":93},{"t":1982,"v":91},{"t":1983,"v":89},{"t":1984,"v":87},{"t":1985,"v":85},{"t":1986,"v":83},{"t":1987,"v":81},{"t":1988,"v":79},{"t":1989,"v":77},{"t":1990,"v":75},{"t":1991,"v":73},{"t":1992,"v":72},{"t":1993,"v":70},{"t":1994,"v":68},{"t":1995,"v":67},{"t":1996,"v":65},{"t":1997,"v":63},{"t":1998,"v":61},{"t":1999,"v":60},{"t":2000,"v":58},{"t":2001,"v":57},{"t":2002,"v":55},{"t":2003,"v":54},{"t":2004,"v":53},{"t":2005,"v":51},{"t":2006,"v":50},{"t":2007,"v":49},{"t":2008,"v":47},{"t":2009,"v":46},{"t":2010,"v":45},{"t":2011,"v":43},{"t":2012,"v":42},{"t":2013,"v":41},{"t":2014,"v":39},{"t":2015,"v":38},
{"t":1961,"v":90},{"t":1962,"v":89},{"t":1963,"v":87},{"t":1964,"v":86},{"t":1965,"v":84},{"t":1966,"v":83},{"t":1967,"v":81},{"t":1968,"v":80},{"t":1969,"v":79},{"t":1970,"v":77},{"t":1971,"v":76},{"t":1972,"v":74},{"t":1973,"v":73},{"t":1974,"v":71},{"t":1975,"v":70},{"t":1976,"v":69},{"t":1977,"v":67},{"t":1978,"v":66},{"t":1979,"v":64},{"t":1980,"v":63},{"t":1981,"v":61},{"t":1982,"v":60},{"t":1983,"v":58},{"t":1984,"v":57},{"t":1985,"v":55},{"t":1986,"v":54},{"t":1987,"v":52},{"t":1988,"v":51},{"t":1989,"v":49},{"t":1990,"v":48},{"t":1991,"v":47},{"t":1992,"v":46},{"t":1993,"v":45},{"t":1994,"v":44},{"t":1995,"v":43},{"t":1996,"v":42},{"t":1997,"v":41},{"t":1998,"v":40},{"t":1999,"v":39},{"t":2000,"v":38},{"t":2001,"v":37},{"t":2002,"v":36},{"t":2003,"v":36},{"t":2004,"v":35},{"t":2005,"v":34},{"t":2006,"v":33},{"t":2007,"v":32},{"t":2008,"v":32},{"t":2009,"v":31},{"t":2010,"v":30},{"t":2011,"v":29},{"t":2012,"v":28},{"t":2013,"v":28},{"t":2014,"v":27},{"t":2015,"v":26},
{"t":1961,"v":65},{"t":1962,"v":64},{"t":1963,"v":62},{"t":1964,"v":61},{"t":1965,"v":59},{"t":1966,"v":58},{"t":1967,"v":56},{"t":1968,"v":55},{"t":1969,"v":54},{"t":1970,"v":52},{"t":1971,"v":51},{"t":1972,"v":49},{"t":1973,"v":48},{"t":1974,"v":46},{"t":1975,"v":45},{"t":1976,"v":44},{"t":1977,"v":43},{"t":1978,"v":42},{"t":1979,"v":40},{"t":1980,"v":39},{"t":1981,"v":38},{"t":1982,"v":37},{"t":1983,"v":36},{"t":1984,"v":35},{"t":1985,"v":34},{"t":1986,"v":32},{"t":1987,"v":31},{"t":1988,"v":30},{"t":1989,"v":29},{"t":1990,"v":28},{"t":1991,"v":27},{"t":1992,"v":26},{"t":1993,"v":26},{"t":1994,"v":25},{"t":1995,"v":24},{"t":1996,"v":23},{"t":1997,"v":22},{"t":1998,"v":22},{"t":1999,"v":21},{"t":2000,"v":20},{"t":2001,"v":20},{"t":2002,"v":19},{"t":2003,"v":19},{"t":2004,"v":18},{"t":2005,"v":18},{"t":2006,"v":17},{"t":2007,"v":17},{"t":2008,"v":16},{"t":2009,"v":16},{"t":2010,"v":15},{"t":2011,"v":15},{"t":2012,"v":14},{"t":2013,"v":14},{"t":2014,"v":13},{"t":2015,"v":13},
{"t":1961,"v":45},{"t":1962,"v":44},{"t":1963,"v":43},{"t":1964,"v":41},{"t":1965,"v":40},{"t":1966,"v":39},{"t":1967,"v":38},{"t":1968,"v":37},{"t":1969,"v":35},{"t":1970,"v":34},{"t":1971,"v":33},{"t":1972,"v":32},{"t":1973,"v":30},{"t":1974,"v":29},{"t":1975,"v":28},{"t":1976,"v":27},{"t":1977,"v":26},{"t":1978,"v":26},{"t":1979,"v":25},{"t":1980,"v":24},{"t":1981,"v":23},{"t":1982,"v":22},{"t":1983,"v":22},{"t":1984,"v":21},{"t":1985,"v":20},{"t":1986,"v":19},{"t":1987,"v":18},{"t":1988,"v":18},{"t":1989,"v":17},{"t":1990,"v":16},{"t":1991,"v":16},{"t":1992,"v":15},{"t":1993,"v":15},{"t":1994,"v":14},{"t":1995,"v":14},{"t":1996,"v":13},{"t":1997,"v":13},{"t":1998,"v":12},{"t":1999,"v":12},{"t":2000,"v":11},{"t":2001,"v":11},{"t":2002,"v":10},{"t":2003,"v":10},{"t":2004,"v":10},{"t":2005,"v":9.8},{"t":2006,"v":9.5},{"t":2007,"v":9.2},{"t":2008,"v":8.9},{"t":2009,"v":8.6},{"t":2010,"v":8.3},{"t":2011,"v":8.0},{"t":2012,"v":7.7},{"t":2013,"v":7.4},{"t":2014,"v":7.1},{"t":2015,"v":6.8}
]
},
"encoding": {
"x": {"field": "t", "type": "quantitative", "scale": {"domain": [1957.94, 2015.22], "nice": false, "zero": false},
"axis": {"values": [1960, 1970, 1980, 1990, 2000, 2010], "format": "d", "title": null, "domain": false, "ticks": false, "tickSize": 0, "grid": true, "gridColor": "#93c883", "gridWidth": 2, "labelFont": "Liberation Sans", "labelFontSize": 50, "labelColor": "#eef6e8", "labelPadding": 5, "labelBaseline": "top"}},
"y": {"field": "v", "type": "quantitative", "scale": {"domain": [-20.3, 450.7], "nice": false, "zero": false},
"axis": {"values": [0, 100, 200, 300, 400], "title": null, "domain": false, "ticks": false, "tickSize": 0, "grid": true, "gridColor": "#93c883", "gridWidth": 2, "labelFont": "Liberation Sans", "labelFontSize": 50, "labelColor": "#eef6e8", "labelPadding": 28, "labelAlign": "right", "labelBaseline": "middle"}}
},
"layer": [
{"data": {"name": "pts"}, "mark": {"type": "point", "shape": "diamond", "filled": true, "size": 140, "fill": "#ffffff", "fillOpacity": 0.27, "stroke": "#ffffff", "strokeOpacity": 0.55, "strokeWidth": 1.2}},
{"data": {"name": "avg"}, "mark": {"type": "line", "color": "#1b1b1b", "strokeWidth": 3.5}},
{"data": {"name": "arrow"}, "mark": {"type": "line", "color": "#f2f7ee", "strokeWidth": 2, "interpolate": "natural"}, "encoding": {"order": {"field": "i", "type": "quantitative"}}},
{"data": {"name": "head"}, "mark": {"type": "point", "shape": "triangle-down", "filled": true, "size": 300, "color": "#f2f7ee", "opacity": 1}},
{"data": {"name": "txt"}, "mark": {"type": "text", "align": "left", "baseline": "alphabetic", "font": "Liberation Sans", "fontSize": 54, "color": "#eef6e8"}, "encoding": {"text": {"field": "label"}}}
]
}
